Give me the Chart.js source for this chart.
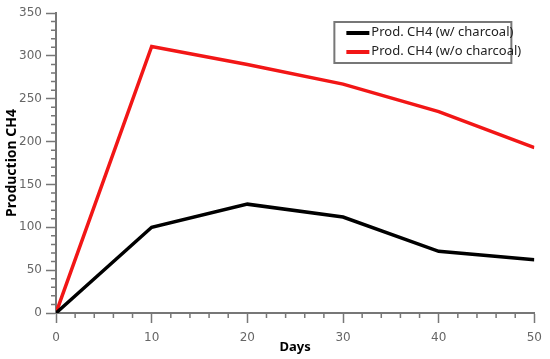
<!DOCTYPE html>
<html>
<head>
<meta charset="utf-8">
<script src="https://cdn.jsdelivr.net/npm/chart.js@4.4.1/dist/chart.umd.min.js"></script>
<style>
  html, body { margin: 0; padding: 0; background: #fff; }
  #contenedor { width: 550px; height: 359px; }
</style>
</head>
<body>
<div id="contenedor"><canvas id="grafico"></canvas></div>
<script>
// datos
const dias = [0, 10, 20, 30, 40, 50];
const conCarbon = [0, 100, 127, 112, 72, 62];
const sinCarbon = [0, 311, 290, 267, 235, 193];
const etiquetas = ['Prod. CH4 (w/ charcoal)', 'Prod. CH4 (w/o charcoal)'];
const tituloX = 'Days';
const tituloY = 'Production CH4';

const GRIS = '#777';

// marcas menores de los ejes (mas cortas que las principales)
const marcasMenores = {
    id: 'marcasMenores',
    afterDraw(chart) {
        const ctx = chart.ctx;
        const ejeX = chart.scales.x;
        const ejeY = chart.scales.y;
        ctx.save();
        ctx.strokeStyle = GRIS;
        ctx.lineWidth = 1.5;
        ctx.beginPath();
        ejeX.ticks.forEach(t => {
            if (t.value % 10 !== 0) {
                const px = ejeX.getPixelForValue(t.value);
                ctx.moveTo(px, ejeX.top);
                ctx.lineTo(px, ejeX.top + 5);
            }
        });
        ejeY.ticks.forEach(t => {
            if (t.value % 50 !== 0) {
                const py = ejeY.getPixelForValue(t.value);
                ctx.moveTo(ejeY.right, py);
                ctx.lineTo(ejeY.right - 5, py);
            }
        });
        ctx.stroke();
        ctx.restore();
    }
};

// leyenda con recuadro dentro del area del grafico
const leyendaRecuadro = {
    id: 'leyendaRecuadro',
    afterDraw(chart) {
        const ctx = chart.ctx;
        const area = chart.chartArea;
        const izq = area.right - 200;
        const arriba = area.top + 9;
        ctx.save();
        ctx.strokeStyle = GRIS;
        ctx.lineWidth = 2;
        ctx.strokeRect(izq, arriba, 177, 41);
        ctx.font = '13px "Noto Sans"';
        ctx.textBaseline = 'middle';
        chart.data.datasets.forEach((ds, i) => {
            const y = arriba + 10 + i * 19;
            ctx.strokeStyle = ds.borderColor;
            ctx.lineWidth = 4;
            ctx.beginPath();
            ctx.moveTo(izq + 12, y + 1);
            ctx.lineTo(izq + 35, y + 1);
            ctx.stroke();
            ctx.fillStyle = '#222';
            ctx.fillText(ds.label, izq + 37, y);
        });
        ctx.restore();
    }
};

const ctx = document.getElementById('grafico').getContext('2d');
new Chart(ctx, {
    type: 'line',
    data: {
        datasets: [{
            label: etiquetas[0],
            data: dias.map((d, i) => ({x: d, y: conCarbon[i]})),
            borderColor: '#000000',
            borderWidth: 3.5,
            pointRadius: 0,
            tension: 0
        }, {
            label: etiquetas[1],
            data: dias.map((d, i) => ({x: d, y: sinCarbon[i]})),
            borderColor: '#f21616',
            borderWidth: 3.5,
            pointRadius: 0,
            tension: 0
        }]
    },
    options: {
        responsive: true,
        maintainAspectRatio: false,
        animation: false,
        layout: { padding: { top: 13, right: 12, left: 0, bottom: 0 } },
        plugins: {
            legend: { display: false },
            tooltip: { enabled: false }
        },
        scales: {
            x: {
                type: 'linear',
                min: 0,
                max: 50,
                afterFit: s => { s.height = 46; },
                border: { color: GRIS, width: 2 },
                grid: {
                    drawOnChartArea: false,
                    tickLength: 10,
                    tickWidth: 1.5,
                    tickColor: c => (c.tick && c.tick.value % 10 === 0) ? GRIS : 'rgba(0,0,0,0)'
                },
                ticks: {
                    stepSize: 2,
                    autoSkip: false,
                    maxRotation: 0,
                    padding: 8,
                    color: '#666',
                    font: { family: 'DejaVu Sans', size: 12 },
                    callback: v => v % 10 === 0 ? v : ''
                },
                title: {
                    display: true,
                    text: tituloX,
                    color: '#000',
                    font: { family: 'Noto Sans', size: 13, weight: 'bold' },
                    padding: { top: 0, bottom: 4 }
                }
            },
            y: {
                min: 0,
                max: 350,
                afterFit: s => { s.width = 56; },
                border: { color: GRIS, width: 2 },
                grid: {
                    drawOnChartArea: false,
                    tickLength: 10,
                    tickWidth: 1.5,
                    tickColor: c => (c.tick && c.tick.value % 50 === 0) ? GRIS : 'rgba(0,0,0,0)'
                },
                ticks: {
                    stepSize: 10,
                    autoSkip: false,
                    padding: 4,
                    color: '#666',
                    font: { family: 'DejaVu Sans', size: 12 },
                    callback: v => v % 50 === 0 ? v : ''
                },
                title: {
                    display: true,
                    text: tituloY,
                    color: '#000',
                    font: { family: 'Noto Sans', size: 14, weight: 'bold' },
                    padding: { top: 4, bottom: 0 }
                }
            }
        }
    },
    plugins: [marcasMenores, leyendaRecuadro]
});
</script>
</body>
</html>
